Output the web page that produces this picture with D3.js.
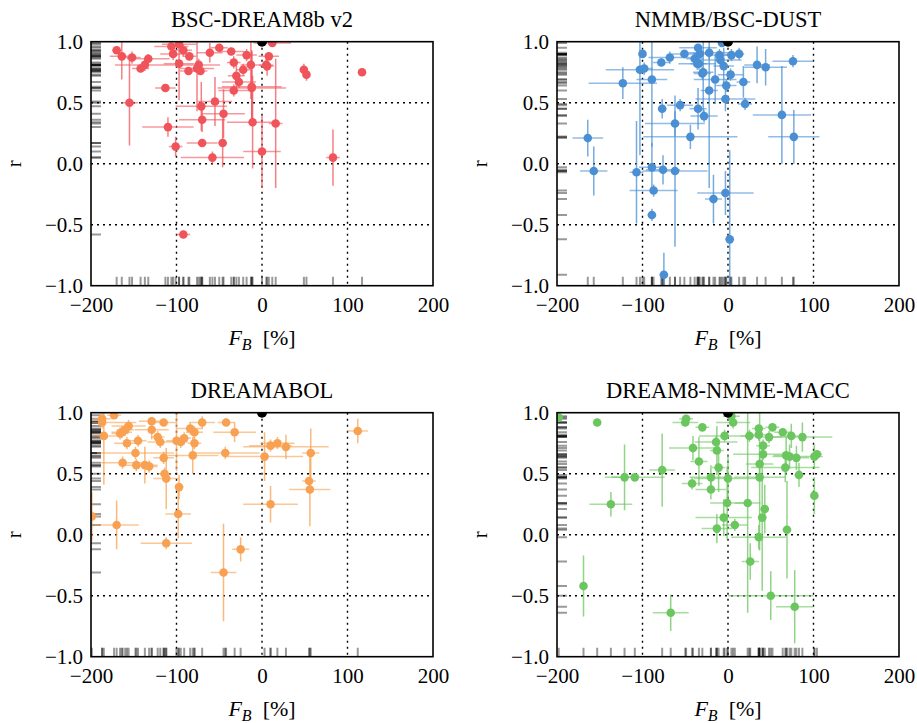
<!DOCTYPE html>
<html>
<head>
<meta charset="utf-8">
<script src="https://cdn.jsdelivr.net/npm/d3@7/dist/d3.min.js"></script>
<style>
body{margin:0;background:#fff;}
svg{display:block;}
text{font-family:"Liberation Serif","Times New Roman",serif;fill:#000;}
</style>
</head>
<body>
<svg id="chart" width="917" height="723"></svg>
<script>
// ---------- data ----------
const titles = ["BSC-DREAM8b v2", "NMMB/BSC-DUST", "DREAMABOL", "DREAM8-NMME-MACC"];
const colors = ["#f0545b", "#4a8fd3", "#f9a152", "#6cc65f"];
const xTicks = [-200, -100, 0, 100, 200];
const yTicks = [-1.0, -0.5, 0.0, 0.5, 1.0];
const xGrid = [-100, 0, 100];
const yGrid = [-0.5, 0, 0.5];

// Panel 1: BSC-DREAM8b v2
const bscX    = [-170,-164,-152,-133,-142,-137,-155,-113,-110,-101,-106,-97,-104,-92,-97,-85,-86,-76,-72,-74,-61,-50,-36,-18,8,12,-33,-22,-13,5,-30,-27,-33,-12,-55,-71,-45,-70,-11,16,-70,-46,-58,0,-92,49,52,83,117,6,-12];
const bscR    = [0.93,0.88,0.87,0.86,0.78,0.81,0.50,0.62,0.30,0.14,0.96,0.98,0.90,0.93,0.82,0.88,0.76,0.78,0.76,0.81,0.91,0.95,0.92,0.89,0.88,0.99,0.83,0.77,0.81,0.81,0.72,0.67,0.60,0.63,0.51,0.47,0.41,0.36,0.34,0.33,0.17,0.17,0.05,0.10,-0.58,0.77,0.73,0.05,0.75,0.80,0.62];
const bscXErr = [5,14,10,25,10,35,10,12,30,8,20,20,15,10,18,8,10,20,8,25,15,10,15,12,12,22,8,8,12,8,10,20,18,35,20,30,25,27,30,8,18,5,37,22,8,3,4,8,4,8,40];
const bscYErr = [0.03,0.19,0.05,0.04,0.03,0.05,0.35,0.02,0.08,0.08,0.03,0.03,0.05,0.05,0.30,0.03,0.03,0.35,0.03,0.05,0.08,0.03,0.03,0.05,0.03,0.03,0.05,0.05,0.28,0.05,0.10,0.05,0.05,0.30,0.20,0.20,0.20,0.10,0.38,0.53,0.03,0.20,0.05,0.30,0.03,0.05,0.05,0.23,0.02,0.08,0.30];

// Panel 2: NMMB/BSC-DUST
const nmmbX    = [-164,-157,-123,-107,-100,-103,-98,-89,-89,-87,-89,-78,-68,-51,-77,-56,-62,-76,-62,-75,-44,-35,-39,-33,-36,-34,-29,-30,-35,-28,-22,-10,-9,-15,-22,-17,-5,-2,-3,-3,2,-7,4,3,13,18,20,34,44,76,63,77];
const nmmbR    = [0.21,-0.06,0.66,-0.07,0.90,0.77,0.78,0.69,-0.03,-0.22,-0.42,0.83,0.87,0.90,0.45,0.48,0.33,-0.05,-0.06,-0.91,0.22,0.95,0.86,0.90,0.82,0.82,0.75,0.74,0.45,0.39,0.91,0.89,0.85,0.69,0.60,-0.29,0.80,0.64,0.53,-0.24,-0.62,0.99,0.89,0.73,0.90,0.67,0.49,0.81,0.79,0.84,0.40,0.22];
const nmmbXErr = [18,16,40,8,3,40,10,18,15,28,5,10,25,15,5,15,35,20,38,5,55,22,10,8,22,10,12,10,10,16,25,15,25,25,10,10,12,12,35,33,5,5,8,15,6,8,8,15,25,24,34,30];
const nmmbYErr = [0.15,0.20,0.13,0.42,0.03,0.70,0.05,0.55,0.20,0.05,0.05,0.03,0.05,0.03,0.08,0.05,0.10,0.12,0.62,0.18,0.10,0.03,0.05,0.03,0.05,0.05,0.35,0.05,0.17,0.05,0.05,0.05,0.05,0.20,0.80,0.20,0.15,0.05,0.10,0.18,0.73,0.03,0.05,0.05,0.05,0.13,0.05,0.15,0.15,0.05,0.40,0.22];

// Panel 3: DREAMABOL
const ablX    = [-199,-187,-187,-173,-185,-170,-166,-164,-160,-156,-163,-158,-148,-145,-147,-137,-132,-129,-115,-129,-122,-119,-115,-114,-112,-112,-100,-97,-98,-95,-91,-84,-79,-79,-81,-70,-42,-32,-43,-25,-45,3,10,18,28,10,57,55,56,112];
const ablR    = [0.15,0.95,0.92,0.98,0.81,0.08,0.83,0.84,0.86,0.89,0.59,0.75,0.67,0.77,0.57,0.57,0.56,0.93,0.92,0.86,0.80,0.76,0.63,0.50,0.46,-0.07,0.77,0.39,0.17,0.76,0.79,0.87,0.84,0.75,0.65,0.92,0.92,0.84,0.67,-0.12,-0.31,0.64,0.73,0.75,0.72,0.25,0.67,0.44,0.37,0.85];
const ablXErr = [8,10,40,8,15,26,10,12,10,20,25,15,45,10,20,15,10,15,15,20,8,15,12,8,15,30,12,5,15,8,8,15,10,8,30,15,10,25,40,10,15,45,25,20,50,32,10,8,24,12];
const ablYErr = [0.20,0.05,0.05,0.03,0.40,0.20,0.05,0.05,0.05,0.05,0.05,0.05,0.05,0.05,0.05,0.15,0.05,0.03,0.03,0.08,0.05,0.05,0.05,0.05,0.25,0.05,0.25,0.10,0.20,0.05,0.05,0.05,0.05,0.05,0.15,0.05,0.03,0.08,0.05,0.10,0.40,0.20,0.05,0.05,0.10,0.15,0.20,0.03,0.30,0.10];

// Panel 4: DREAM8-NMME-MACC
const macX    = [-198,-153,-169,-137,-121,-109,-77,-67,-49,-50,-30,-41,-34,-42,-20,-20,-14,-13,-11,-5,-13,-4,0,-1,6,4,8,25,23,26,36,36,41,41,37,37,43,40,36,50,48,52,64,74,68,72,80,67,83,69,78,87,101,104,101];
const macR    = [0.96,0.92,-0.42,0.25,0.47,0.47,0.53,-0.64,0.95,0.92,0.88,0.71,0.60,0.42,0.47,0.37,0.76,0.69,0.55,0.14,0.05,0.81,0.46,0.26,0.92,0.97,0.08,0.81,0.26,-0.22,0.87,0.82,0.73,0.66,0.58,0.47,0.21,0.14,-0.02,-0.50,0.80,0.88,0.84,0.81,0.65,0.64,0.63,0.55,0.49,0.04,-0.59,0.80,0.64,0.66,0.32];
const macXErr = [4,4,4,25,15,35,15,21,8,15,8,28,10,12,25,18,25,8,8,33,18,30,40,20,20,10,15,10,15,10,8,10,8,35,16,30,5,5,32,50,16,8,10,8,15,20,15,40,5,5,22,35,10,6,4];
const macYErr = [0.03,0.03,0.25,0.10,0.27,0.03,0.30,0.15,0.03,0.03,0.03,0.10,0.20,0.05,0.10,0.08,0.05,0.20,0.20,0.15,0.12,0.05,0.20,0.30,0.05,0.03,0.05,0.05,0.90,0.15,0.03,0.05,0.05,0.05,0.10,0.60,0.20,0.60,0.10,0.20,0.05,0.03,0.03,0.10,0.15,0.10,0.10,0.12,0.10,0.40,0.30,0.12,0.10,0.03,0.15];

const panelsData = [
  {x: bscX, r: bscR, xe: bscXErr, ye: bscYErr},
  {x: nmmbX, r: nmmbR, xe: nmmbXErr, ye: nmmbYErr},
  {x: ablX, r: ablR, xe: ablXErr, ye: ablYErr},
  {x: macX, r: macR, xe: macXErr, ye: macYErr}
];

// ---------- layout ----------
const svg = d3.select("#chart");
const W = 342, H = 244;
const origins = [[91, 41.7], [557, 41.7], [91, 412.7], [557, 412.7]];

function fmtY(d){ const s = d3.format(".1f")(Math.abs(d)); return (d < 0 ? "\u2212" : "") + s; }
function fmtX(d){ return (d < 0 ? "\u2212" : "") + Math.abs(d); }

panelsData.forEach((pd, i) => {
  const [ox, oy] = origins[i];
  const col = colors[i];
  const g = svg.append("g").attr("transform", `translate(${ox},${oy})`);
  const x = d3.scaleLinear().domain([-200, 200]).range([0, W]);
  const y = d3.scaleLinear().domain([-1, 1]).range([H, 0]);

  const clipId = "clip" + i;
  g.append("clipPath").attr("id", clipId).append("rect").attr("x", 0).attr("y", 0).attr("width", W).attr("height", H);
  const plot = g.append("g").attr("clip-path", `url(#${clipId})`);

  // grid
  plot.selectAll(".gx").data(xGrid).join("line")
    .attr("x1", d => x(d)).attr("x2", d => x(d)).attr("y1", 0).attr("y2", H)
    .attr("stroke", "#000").attr("stroke-width", 1.4).attr("stroke-dasharray", "2,4");
  plot.selectAll(".gy").data(yGrid).join("line")
    .attr("y1", d => y(d)).attr("y2", d => y(d)).attr("x1", 0).attr("x2", W)
    .attr("stroke", "#000").attr("stroke-width", 1.4).attr("stroke-dasharray", "2,4");

  const idx = d3.range(pd.x.length);

  // rugs
  plot.selectAll(".rx").data(idx).join("line")
    .attr("x1", k => x(pd.x[k])).attr("x2", k => x(pd.x[k]))
    .attr("y1", H).attr("y2", H - 9)
    .attr("stroke", "#000").attr("stroke-opacity", 0.4).attr("stroke-width", 2);
  plot.selectAll(".ry").data(idx).join("line")
    .attr("y1", k => y(pd.r[k])).attr("y2", k => y(pd.r[k]))
    .attr("x1", 0).attr("x2", 10)
    .attr("stroke", "#000").attr("stroke-opacity", 0.4).attr("stroke-width", 2);

  // error bars
  plot.selectAll(".ex").data(idx).join("line")
    .attr("x1", k => x(pd.x[k] - pd.xe[k])).attr("x2", k => x(pd.x[k] + pd.xe[k]))
    .attr("y1", k => y(pd.r[k])).attr("y2", k => y(pd.r[k]))
    .attr("stroke", col).attr("stroke-opacity", 0.6).attr("stroke-width", 1.5);
  plot.selectAll(".ey").data(idx).join("line")
    .attr("x1", k => x(pd.x[k])).attr("x2", k => x(pd.x[k]))
    .attr("y1", k => y(pd.r[k] - pd.ye[k])).attr("y2", k => y(pd.r[k] + pd.ye[k]))
    .attr("stroke", col).attr("stroke-opacity", 0.75).attr("stroke-width", 1.5);

  // markers
  plot.selectAll(".pt").data(idx).join("circle")
    .attr("cx", k => x(pd.x[k])).attr("cy", k => y(pd.r[k])).attr("r", 4.3)
    .attr("fill", col);

  // reference point
  plot.append("circle").attr("cx", x(0)).attr("cy", y(1)).attr("r", 5).attr("fill", "#000");

  // frame
  g.append("rect").attr("x", 0).attr("y", 0).attr("width", W).attr("height", H)
    .attr("fill", "none").attr("stroke", "#000").attr("stroke-width", 1.6);

  // axes
  const xa = g.append("g").attr("transform", `translate(0,${H})`)
    .call(d3.axisBottom(x).tickValues(xTicks).tickSize(0).tickPadding(11).tickFormat(fmtX));
  xa.select(".domain").remove();
  xa.selectAll("text").attr("font-size", 21).attr("font-family", "Liberation Serif").attr("dy", "0.72em");
  const ya = g.append("g")
    .call(d3.axisLeft(y).tickValues(yTicks).tickSize(0).tickPadding(8).tickFormat(fmtY));
  ya.select(".domain").remove();
  ya.selectAll("text").attr("font-size", 21).attr("font-family", "Liberation Serif");

  // title
  g.append("text").attr("x", W / 2).attr("y", -14.5).attr("text-anchor", "middle")
    .attr("font-size", 22.5).text(titles[i]);

  // x label
  const xl = g.append("text").attr("x", W / 2).attr("y", H + 59).attr("text-anchor", "middle").attr("font-size", 22);
  xl.append("tspan").attr("font-style", "italic").text("F");
  xl.append("tspan").attr("font-style", "italic").attr("font-size", 16).attr("dy", 5).text("B");
  xl.append("tspan").attr("dy", -5).text("\u2002[%]");

  // y label
  g.append("text").attr("transform", `translate(${-70},${H / 2}) rotate(-90)`)
    .attr("text-anchor", "middle").attr("font-size", 21).text("r");
});
</script>
</body>
</html>
